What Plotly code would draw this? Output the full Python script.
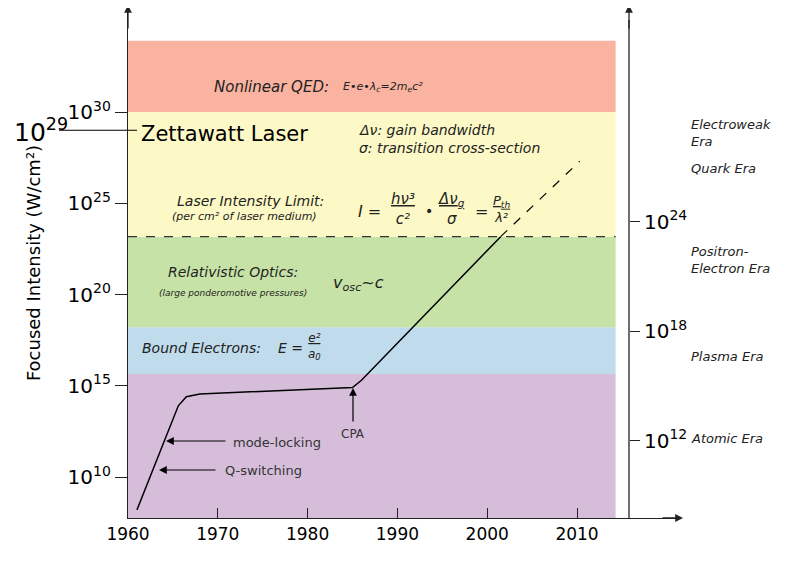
import plotly.graph_objects as go

# solid history curve (year, focused intensity W/cm2)
years = [1961, 1965.6, 1966.5, 1968, 1985, 1986, 2001.5]
intensity = [10**8.2, 10**13.9, 10**14.4, 10**14.55, 10**14.9, 10**15.3, 10**23.17]
# extrapolation
proj_years = [2001.5, 2010.3]
proj_intensity = [10**23.17, 10**27.3]

# bands: lower / upper log10 intensity, colour
band_lo = [7.75, 15.65, 18.2, 23.17, 30.0]
band_hi = [15.65, 18.2, 23.17, 30.0, 33.9]
band_col = ["#d6bedb", "#bfdbec", "#c7e2a7", "#fdf9c6", "#f9b3a0"]
band_end = 2014.3

left_ticks = [10, 15, 20, 25, 30]
right_ticks = [12, 18, 24]
x_ticks = [1960, 1970, 1980, 1990, 2000, 2010]
eras = [("Electroweak<br>Era", 133), ("Quark Era", 168), ("Positron-<br>Electron Era", 260),
        ("Plasma Era", 356), ("Atomic Era", 438)]

W, H = 800, 575
OX, OY = 7, 8          # page body margin
P_L, P_R, P_T, P_B = 127, 680, 8, 518   # plot area in page pixels
L, R, T, B = P_L - OX, W - (P_R - OX), P_T - OY, H - (P_B - OY)
XR = [1960, 1960 + (P_R - P_L) / 8.98]
YR = [10 - (P_B - 477) / 18.25, 30 + (112 - P_T) / 18.25]


def X(px):  # page pixel -> year
    return XR[0] + (px - P_L) / (P_R - P_L) * (XR[1] - XR[0])


def PX(px):  # page pixel -> paper x
    return (px - P_L) / (P_R - P_L)


def Y(py):  # page pixel -> log10 value
    return YR[1] - (py - P_T) / (P_B - P_T) * (YR[1] - YR[0])


fig = go.Figure()
for lo, hi, c in zip(band_lo, band_hi, band_col):
    fig.add_shape(type="rect", x0=1960, x1=band_end, y0=10.0**lo, y1=10.0**hi,
                  fillcolor=c, line_width=0, layer="below")
fig.add_shape(type="line", x0=1960, x1=band_end, y0=10.0**band_hi[2], y1=10.0**band_hi[2],
              line=dict(color="#333", width=1.2, dash="dash"))

fig.add_trace(go.Scatter(x=years, y=intensity, mode="lines", line=dict(color="black", width=1.5),
                         showlegend=False, hoverinfo="skip"))
fig.add_trace(go.Scatter(x=proj_years, y=proj_intensity, mode="lines",
                         line=dict(color="black", width=1.2, dash="dash"), showlegend=False))
# dummy trace for right axis
fig.add_trace(go.Scatter(x=[None], y=[None], yaxis="y2", showlegend=False))

fnt = "DejaVu Sans"
ann = []


def txt(px, py, text, size=14, italic=True, anchor="center", color="#222", paper=False):
    ann.append(dict(x=PX(px) if paper else X(px), y=Y(py), xref="paper" if paper else "x", yref="y",
                    text=f"<i>{text}</i>" if italic else text, showarrow=False, xanchor=anchor,
                    align=anchor if anchor != "right" else "right",
                    font=dict(size=size, family=fnt, color=color)))


txt(330, 87, "Nonlinear QED:", 15, anchor="right")
txt(340, 87, "E•e•λ<sub>c</sub>=2m<sub>e</sub>c²", 11, anchor="left")
txt(138, 134, "Zettawatt Laser", 21, italic=False, anchor="left", color="black")
txt(356, 130, "Δν: gain bandwidth", 14, anchor="left")
txt(356, 148, "σ: transition cross-section", 14, anchor="left")
txt(325, 201, "Laser Intensity Limit:", 14, anchor="right")
txt(318, 216, "(per cm² of laser medium)", 11, anchor="right")
txt(368, 211, "I =", 16)
txt(402, 209, "<u>hν³</u><br>c²", 15)
txt(428, 211, "•", 14)
txt(450, 209, "<u>Δν<sub>g</sub></u><br>σ", 15)
txt(480, 211, "=", 16)
txt(500, 209, "<u>P<sub>th</sub></u><br>λ²", 13)
txt(232, 272, "Relativistic Optics:", 14)
txt(232, 293, "(large ponderomotive pressures)", 9)
txt(330, 283, "v<sub>osc</sub>~c", 16, anchor="left")
txt(200, 348, "Bound Electrons:", 14)
txt(275, 348, "E =", 14, anchor="left")
txt(313, 346, "<u>e²</u><br>a<sub>0</sub>", 12)
for label, py in eras:
    txt(688, py, label, 13, anchor="left", paper=True)
txt(230, 442, "mode-locking", 13, italic=False, anchor="left", color="#333")
txt(222, 470, "Q-switching", 13, italic=False, anchor="left", color="#333")
txt(352, 434, "CPA", 12, italic=False, color="#333")

# annotation arrows
for tx, ty, hx, hy in [(226, 441, 165, 441), (216, 470, 158, 470), (352, 423, 352, 388)]:
    ann.append(dict(x=X(hx), y=Y(hy), ax=X(tx), ay=Y(ty), xref="x", yref="y", axref="x", ayref="y",
                    showarrow=True, arrowhead=2, arrowsize=1.3, arrowwidth=1.2, arrowcolor="black",
                    text=""))
# axis arrowheads
for tx, ty, hx, hy in [(127, 30, 127, 5), (660, 518, 682, 518), (628, 30, 628, 5)]:
    ann.append(dict(x=X(hx), y=Y(hy), ax=X(tx), ay=Y(ty), xref="x", yref="y", axref="x", ayref="y",
                    showarrow=True, arrowhead=2, arrowsize=1.2, arrowwidth=1.3, arrowcolor="#222",
                    text=""))
# 10^29 marker (outside the plot area -> paper x)
ann.append(dict(x=PX(40), y=Y(130), xref="paper", yref="y", xanchor="center",
                text="10<sup>29</sup>", showarrow=False, font=dict(size=25, family=fnt, color="black")))
fig.add_shape(type="line", xref="paper", x0=PX(58), x1=PX(136), y0=1e29, y1=1e29,
              line=dict(color="black", width=1))
# right axis line
fig.add_shape(type="line", x0=X(628), x1=X(628), y0=10.0**YR[0], y1=10.0**Y(20),
              line=dict(color="#222", width=1.3))

fig.update_layout(
    width=W, height=H, margin=dict(l=L, r=R, t=T, b=B, autoexpand=False),
    plot_bgcolor="white", paper_bgcolor="white", annotations=ann,
    font=dict(family=fnt, color="black"),
    xaxis=dict(range=XR, tickvals=x_ticks, ticks="inside", ticklen=10, tickcolor="#222",
               showgrid=False, zeroline=False, showline=True, linecolor="#222", linewidth=1.3,
               tickfont=dict(size=17)),
    yaxis=dict(type="log", range=YR, tickvals=[10.0**v for v in left_ticks],
               ticktext=[f"10<sup>{v}</sup>" for v in left_ticks], ticks="outside", ticklen=12,
               tickcolor="#222", showgrid=False, zeroline=False, showline=True, linecolor="#222",
               linewidth=1.3, tickfont=dict(size=20),
               title=dict(text="Focused Intensity (W/cm²)", font=dict(size=18), standoff=22)),
    yaxis2=dict(type="log", range=YR, overlaying="y", anchor="free", side="right",
                position=PX(628), tickvals=[10.0**v for v in right_ticks],
                ticktext=[f"10<sup>{v}</sup>" for v in right_ticks], ticks="outside", ticklen=10,
                tickwidth=1.3, tickcolor="#222", showgrid=False, zeroline=False, showline=False,
                tickfont=dict(size=20)),
)
fig.write_html("out.html")
